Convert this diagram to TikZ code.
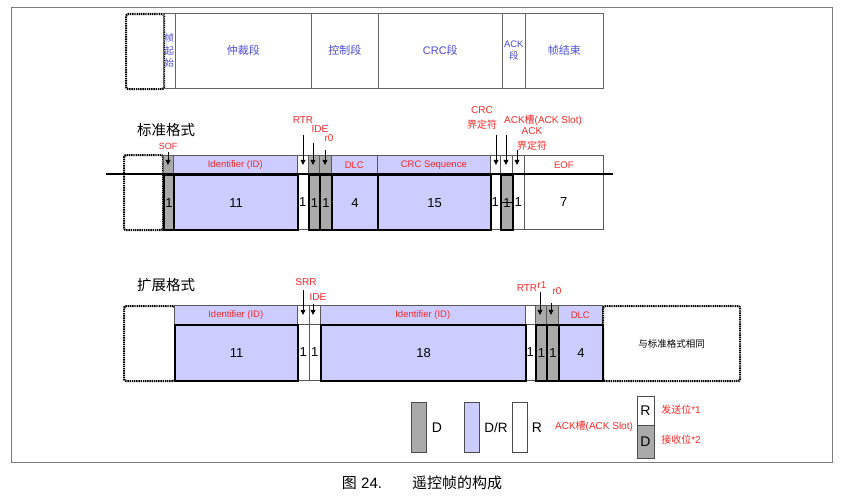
\documentclass[tikz,border=0pt]{standalone}
\usepackage{fontspec}
\setmainfont{Liberation Sans}
\newfontfamily\cjk{Noto Sans CJK SC}
\usetikzlibrary{arrows.meta}
\definecolor{bitgray}{RGB}{170,170,170}
\definecolor{bitpurple}{RGB}{204,204,255}
\definecolor{lblred}{RGB}{250,40,40}
\definecolor{segblue}{RGB}{75,75,225}
\definecolor{framegray}{RGB}{125,125,125}

\tikzset{
  cell/.style={draw=black!65,line width=0.6pt,inner sep=0pt,anchor=north west,
               font=\fontsize{13}{13}\selectfont},
  dbit/.style={cell,fill=bitgray},
  drbit/.style={cell,fill=bitpurple},
  rbit/.style={cell,fill=white},
  hard/.style={draw=black,line width=2.2pt},
  idlabel/.style={text=lblred,font=\fontsize{9.5}{10}\selectfont},
  bitlabel/.style={text=lblred,font=\fontsize{10}{15}\selectfont,inner sep=0pt,align=center},
  bitarrow/.style={draw=black,line width=0.6pt,-{Triangle[length=5pt,width=5pt]}},
  seg/.style={draw=black!60,line width=0.6pt,inner sep=0pt,anchor=north west,
              minimum height=75pt,text=segblue,font=\fontsize{11}{13}\selectfont,align=center},
  idle/.style={draw=black,dash pattern=on 1.4pt off 0.8pt,line width=2.2pt,rounded corners=2pt,
               anchor=north west,inner sep=0pt,minimum height=75pt},
  legendbox/.style={draw=black!70,line width=0.6pt,minimum width=15pt,minimum height=50pt,inner sep=0pt},
  legendtext/.style={font=\fontsize{14}{14}\selectfont,inner sep=0pt},
  title/.style={font=\fontsize{14.5}{14.5}\selectfont\cjk}
}

\begin{document}
\begin{tikzpicture}[x=1pt,y=-1pt]
  \useasboundingbox (0,0) rectangle (861,503);
  \node[draw=framegray,line width=1.2pt,anchor=north west,inner sep=0pt,
        minimum width=821pt,minimum height=455pt] (frame) at (11,7) {};

  \node[idle,minimum width=38pt] (topIdle) at (125,13) {};
  \node[seg,minimum width=12pt,font=\fontsize{9.5}{12.5}\selectfont\cjk] (segSof) at (163,13) {帧\\起\\始};
  \node[seg,minimum width=136pt] (segArb) at (175,13) {\cjk 仲裁段};
  \node[seg,minimum width=67pt] (segCtrl) at (311,13) {\cjk 控制段};
  \node[seg,minimum width=124pt] (segCrc) at (378,13) {CRC{\cjk 段}};
  \node[seg,minimum width=23pt,font=\fontsize{9.5}{12}\selectfont] (segAck) at (502,13) {ACK\\{\cjk 段}};
  \node[seg,minimum width=78pt] (segEof) at (525,13) {\cjk 帧结束};

  \node[title] (stdTitle) at (166,130) {标准格式};
  \node[idle,minimum width=39pt] (stdIdle) at (123,154) {};
  \node[dbit,minimum width=10pt,minimum height=19pt] (sofU) at (163,155) {};
  \node[drbit,idlabel,minimum width=124pt,minimum height=19pt] (idU) at (173,155) {Identifier (ID)};
  \node[rbit,minimum width=11pt,minimum height=19pt] (rtrU) at (297,155) {};
  \node[dbit,minimum width=11pt,minimum height=19pt] (ideU) at (308,155) {};
  \node[dbit,minimum width=12pt,minimum height=19pt] (r0U) at (319,155) {};
  \node[drbit,idlabel,minimum width=46pt,minimum height=19pt] (dlcU) at (331,155) {DLC};
  \node[drbit,idlabel,minimum width=113pt,minimum height=19pt] (crcU) at (377,155) {CRC Sequence};
  \node[rbit,minimum width=10pt,minimum height=19pt] (crcdU) at (490,155) {};
  \node[rbit,minimum width=12pt,minimum height=19pt] (ackU) at (500,155) {};
  \node[rbit,minimum width=12pt,minimum height=19pt] (ackdU) at (512,155) {};
  \node[rbit,idlabel,minimum width=79pt,minimum height=19pt] (eofU) at (524,155) {EOF};

  \node[rbit,minimum width=11pt,minimum height=55pt] (rtrL) at (297,174) {1};
  \node[rbit,minimum width=10pt,minimum height=55pt] (crcdL) at (490,174) {1};
  \node[rbit,minimum width=12pt,minimum height=55pt] (ackdL) at (512,174) {1};
  \node[rbit,minimum width=79pt,minimum height=55pt] (eofL) at (524,174) {7};
  \node[dbit,hard,minimum width=10pt,minimum height=55pt] (sofL) at (163,174) {1};
  \node[drbit,hard,minimum width=124pt,minimum height=55pt] (idL) at (173,174) {11};
  \node[dbit,hard,minimum width=11pt,minimum height=55pt] (ideL) at (308,174) {1};
  \node[dbit,hard,minimum width=12pt,minimum height=55pt] (r0L) at (319,174) {1};
  \node[drbit,hard,minimum width=46pt,minimum height=55pt] (dlcL) at (331,174) {4};
  \node[drbit,hard,minimum width=113pt,minimum height=55pt] (crcL) at (377,174) {15};
  \node[dbit,hard,minimum width=12pt,minimum height=55pt] (ackL) at (500,174) {1};
  \draw[line width=0.6pt] (ackL.west) -- (ackL.east);

  \coordinate (busL) at (106,174);
  \coordinate (busR) at (613,174);
  \draw[line width=2.2pt] (busL) -- (busR);

  \node[bitlabel,font=\fontsize{9}{9}\selectfont] (sofLbl) at (168,146) {SOF};
  \node[bitlabel] (rtrLbl) at (303,120) {RTR};
  \node[bitlabel] (ideLbl) at (320,129) {IDE};
  \node[bitlabel] (r0Lbl) at (329,138) {r0};
  \node[bitlabel] (crcdLbl) at (482,118) {CRC\\{\cjk 界定符}};
  \node[bitlabel] (ackLbl) at (543,120) {ACK{\cjk 槽}(ACK Slot)};
  \node[bitlabel] (ackdLbl) at (532,139) {ACK\\{\cjk 界定符}};
  \coordinate (sofA) at (168,152);
  \coordinate (rtrA) at (303,135);
  \coordinate (ideA) at (313,143);
  \coordinate (r0A) at (325,150);
  \coordinate (crcdA) at (496,135);
  \coordinate (ackA) at (506,135);
  \coordinate (ackdA) at (517,150);
  \draw[bitarrow] (sofA) -- (sofA |- sofU.center);
  \draw[bitarrow] (rtrA) -- (rtrA |- rtrU.center);
  \draw[bitarrow] (ideA) -- (ideA |- ideU.center);
  \draw[bitarrow] (r0A) -- (r0A |- r0U.center);
  \draw[bitarrow] (crcdA) -- (crcdA |- crcdU.center);
  \draw[bitarrow] (ackA) -- (ackA |- ackU.center);
  \draw[bitarrow] (ackdA) -- (ackdA |- ackdU.center);

  \node[title] (extTitle) at (166,285) {扩展格式};
  \node[idle,minimum width=51pt] (extIdle) at (123,305) {};
  \node[drbit,idlabel,minimum width=123pt,minimum height=19pt] (xidU) at (174,305) {Identifier (ID)};
  \node[rbit,minimum width=12pt,minimum height=19pt] (srrU) at (297,305) {};
  \node[rbit,minimum width=11pt,minimum height=19pt] (xideU) at (309,305) {};
  \node[drbit,idlabel,minimum width=205pt,minimum height=19pt] (xidbU) at (320,305) {Identifier (ID)};
  \node[rbit,minimum width=10pt,minimum height=19pt] (xrtrU) at (525,305) {};
  \node[dbit,minimum width=11pt,minimum height=19pt] (r1U) at (535,305) {};
  \node[dbit,minimum width=12pt,minimum height=19pt] (xr0U) at (546,305) {};
  \node[drbit,idlabel,minimum width=44pt,minimum height=19pt] (xdlcU) at (558,305) {DLC};
  \node[idle,minimum width=137pt,font=\fontsize{9.5}{9.5}\selectfont\cjk] (sameAs) at (602,305) {与标准格式相同};

  \node[rbit,minimum width=12pt,minimum height=56pt] (srrL) at (297,324) {1};
  \node[rbit,minimum width=11pt,minimum height=56pt] (xideL) at (309,324) {1};
  \node[rbit,minimum width=10pt,minimum height=56pt] (xrtrL) at (525,324) {1};
  \node[drbit,hard,minimum width=123pt,minimum height=56pt] (xidL) at (174,324) {11};
  \node[drbit,hard,minimum width=205pt,minimum height=56pt] (xidbL) at (320,324) {18};
  \node[dbit,hard,minimum width=11pt,minimum height=56pt] (r1L) at (535,324) {1};
  \node[dbit,hard,minimum width=12pt,minimum height=56pt] (xr0L) at (546,324) {1};
  \node[drbit,hard,minimum width=44pt,minimum height=56pt] (xdlcL) at (558,324) {4};

  \node[bitlabel] (srrLbl) at (306,282) {SRR};
  \node[bitlabel] (xideLbl) at (318,297) {IDE};
  \node[bitlabel] (xrtrLbl) at (527,288) {RTR};
  \node[bitlabel] (r1Lbl) at (542,285) {r1};
  \node[bitlabel] (xr0Lbl) at (557,291) {r0};
  \coordinate (srrA) at (303,290);
  \coordinate (xideA) at (313,304);
  \coordinate (r1A) at (540,292);
  \coordinate (xr0A) at (551,303);
  \draw[bitarrow] (srrA) -- (srrA |- srrU.center);
  \draw[bitarrow] (xideA) -- (xideA |- xideU.center);
  \draw[bitarrow] (r1A) -- (r1A |- r1U.center);
  \draw[bitarrow] (xr0A) -- (xr0A |- xr0U.center);

  \node[legendbox,fill=bitgray] (legD) at (419,427) {};
  \node[legendtext] (legDTxt) at (437,428) {D};
  \node[legendbox,fill=bitpurple] (legDR) at (471.5,427) {};
  \node[legendtext,font=\fontsize{13.5}{13.5}\selectfont] (legDRTxt) at (496,428) {D/R};
  \node[legendbox,fill=white] (legR) at (519.5,427) {};
  \node[legendtext] (legRTxt) at (537,428) {R};
  \node[bitlabel] (legAck) at (594,426) {ACK{\cjk 槽}(ACK Slot)};
  \node[legendbox,legendtext,fill=white,minimum width=17pt,minimum height=29pt] (legSend) at (645.5,410.5) {R};
  \node[legendbox,legendtext,fill=bitgray,minimum width=17pt,minimum height=33pt] (legRecv) at (645.5,441.5) {D};
  \node[bitlabel] (sendLbl) at (681,410) {{\cjk 发送位}*1};
  \node[bitlabel] (recvLbl) at (681,440) {{\cjk 接收位}*2};

  \node[font=\fontsize{15}{15}\selectfont] (caption) at (422,483) {{\cjk 图} 24.\hspace{30pt}{\cjk 遥控帧的构成}};
\end{tikzpicture}
\end{document}
